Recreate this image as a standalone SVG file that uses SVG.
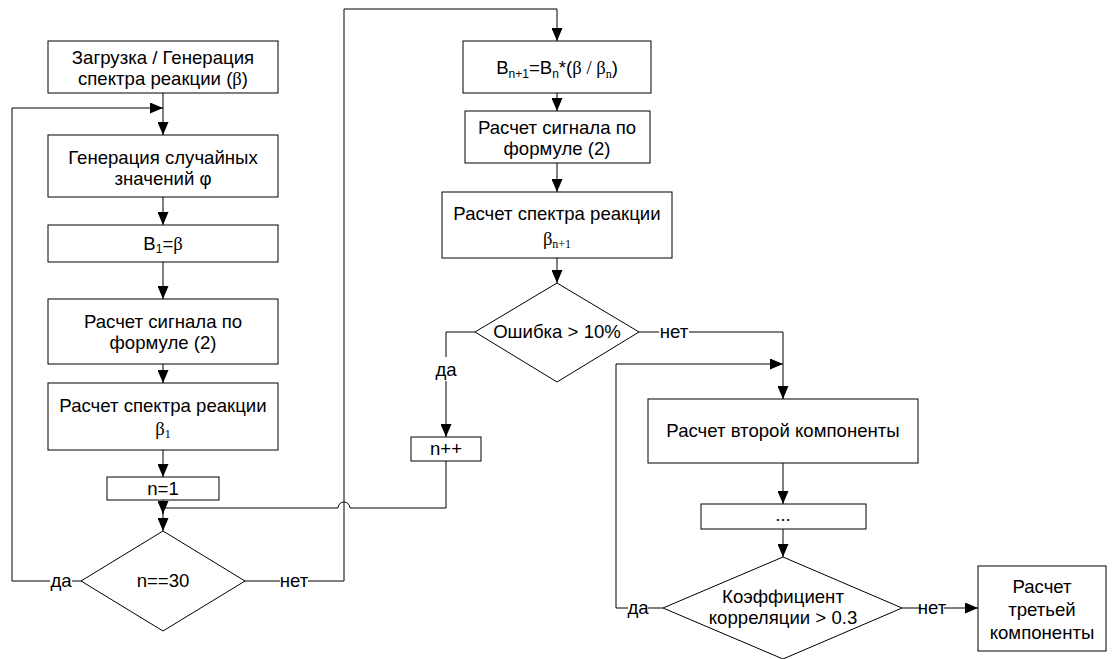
<svg xmlns="http://www.w3.org/2000/svg" width="1113" height="659" viewBox="0 0 1113 659">
<defs>
<marker id="ah" viewBox="0 0 13 11" refX="13" refY="5.5" markerWidth="13" markerHeight="11" markerUnits="userSpaceOnUse" orient="auto">
<path d="M0,0 L13,5.5 L0,11 Z" fill="#000"/>
</marker>
<style>
.box{fill:#fff;stroke:#000;stroke-width:1}
.ln{fill:none;stroke:#000;stroke-width:1}
.ar{fill:none;stroke:#000;stroke-width:1;marker-end:url(#ah)}
.t{font-family:"Liberation Sans",Arial,sans-serif;font-size:18.6px;fill:#000;text-anchor:middle}
.sr{font-family:"Liberation Serif","Times New Roman",serif}
.sub{font-size:12px}
.lbl{fill:#fff;stroke:none}
</style>
</defs>
<rect width="1113" height="659" fill="#fff"/>

<g id="connectors">
<path class="ar" d="M163,93 V135"/>
<path class="ar" d="M12,581 V108 H163"/>
<path class="ar" d="M163,197 V225"/>
<path class="ar" d="M163,262 V299"/>
<path class="ar" d="M163,364 V383"/>
<path class="ar" d="M163,450 V477"/>
<path class="ar" d="M163,500 V514"/>
<path class="ar" d="M446,461 V508 H350 A6,6 0 0 0 338,508 H163 V531"/>
<path class="ln" d="M12,581 H81"/>
<path class="ar" d="M245,581 H344 V9 H557 V41"/>
<path class="ar" d="M557,93 V111"/>
<path class="ar" d="M557,163 V192"/>
<path class="ar" d="M557,258 V283"/>
<path class="ar" d="M475,332 H446 V437"/>
<path class="ar" d="M639,332 H783 V399"/>
<path class="ar" d="M663,608 H616 V364 H783"/>
<path class="ar" d="M783,463 V504"/>
<path class="ar" d="M783,529 V557"/>
<path class="ar" d="M902,608 H978"/>
<rect class="lbl" x="50" y="570" width="22" height="22"/>
<text class="t" x="61" y="587">да</text>
<rect class="lbl" x="280" y="570" width="28" height="22"/>
<text class="t" x="294" y="587">нет</text>
<rect class="lbl" x="434" y="357" width="24" height="24"/>
<text class="t" x="446" y="376">да</text>
<rect class="lbl" x="659" y="321" width="30" height="22"/>
<text class="t" x="674" y="338">нет</text>
<rect class="lbl" x="628" y="597" width="20" height="22"/>
<text class="t" x="638" y="614">да</text>
<rect class="lbl" x="921" y="597" width="23" height="22"/>
<text class="t" x="932" y="614">нет</text>
</g>

<g id="n1">
<rect class="box" x="48" y="41" width="230" height="52"/>
<text class="t" x="163" y="64">Загрузка / Генерация</text>
<text class="t" x="163" y="85">спектра реакции (<tspan class="sr">β</tspan>)</text>
</g>
<g id="n2">
<rect class="box" x="48" y="135" width="230" height="62"/>
<text class="t" x="163" y="164">Генерация случайных</text>
<text class="t" x="163" y="185">значений φ</text>
</g>
<g id="n3">
<rect class="box" x="48" y="225" width="230" height="37"/>
<text class="t" x="163" y="250">B<tspan class="sub" dy="3">1</tspan><tspan dy="-3">=</tspan><tspan class="sr">β</tspan></text>
</g>
<g id="n4">
<rect class="box" x="48" y="299" width="230" height="65"/>
<text class="t" x="163" y="328">Расчет сигнала по</text>
<text class="t" x="163" y="349">формуле (2)</text>
</g>
<g id="n5">
<rect class="box" x="48" y="383" width="230" height="67"/>
<text class="t" x="163" y="412">Расчет спектра реакции</text>
<text class="t" x="163" y="435"><tspan class="sr">β</tspan><tspan class="sr sub" dy="3">1</tspan></text>
</g>
<g id="n6">
<rect class="box" x="107" y="477" width="112" height="23"/>
<text class="t" x="163" y="495">n=1</text>
</g>
<g id="n7">
<path class="box" d="M163,531 L245,581 L163,631 L81,581 Z"/>
<text class="t" x="163" y="587">n==30</text>
</g>

<g id="n8">
<rect class="box" x="463" y="41" width="188" height="52"/>
<text class="t" x="557" y="74">B<tspan class="sub" dy="4">n+1</tspan><tspan dy="-4">=B</tspan><tspan class="sub" dy="4">n</tspan><tspan dy="-4">*(</tspan><tspan class="sr">β / β</tspan><tspan class="sr sub" dy="4">n</tspan><tspan dy="-4">)</tspan></text>
</g>
<g id="n9">
<rect class="box" x="465" y="111" width="185" height="52"/>
<text class="t" x="557" y="134">Расчет сигнала по</text>
<text class="t" x="557" y="155">формуле (2)</text>
</g>
<g id="n10">
<rect class="box" x="442" y="192" width="230" height="66"/>
<text class="t" x="557" y="220">Расчет спектра реакции</text>
<text class="t" x="557" y="245"><tspan class="sr">β</tspan><tspan class="sr sub" dy="3">n+1</tspan></text>
</g>
<g id="n11">
<path class="box" d="M557,283 L639,332 L557,382 L475,332 Z"/>
<text class="t" x="557" y="338">Ошибка &gt; 10%</text>
</g>
<g id="n12">
<rect class="box" x="411" y="437" width="70" height="24"/>
<text class="t" x="446" y="455">n++</text>
</g>
<g id="n13">
<rect class="box" x="648" y="399" width="270" height="64"/>
<text class="t" x="783" y="437">Расчет второй компоненты</text>
</g>
<g id="n14">
<rect class="box" x="701" y="504" width="165" height="25"/>
<text class="t" x="783" y="521">...</text>
</g>
<g id="n15">
<path class="box" d="M783,557 L902,608 L783,659 L663,608 Z"/>
<text class="t" x="783" y="603">Коэффициент</text>
<text class="t" x="783" y="624">корреляции &gt; 0.3</text>
</g>
<g id="n16">
<rect class="box" x="978" y="566" width="128" height="85"/>
<text class="t" x="1042" y="593">Расчет</text>
<text class="t" x="1042" y="616">третьей</text>
<text class="t" x="1042" y="639">компоненты</text>
</g>
</svg>
